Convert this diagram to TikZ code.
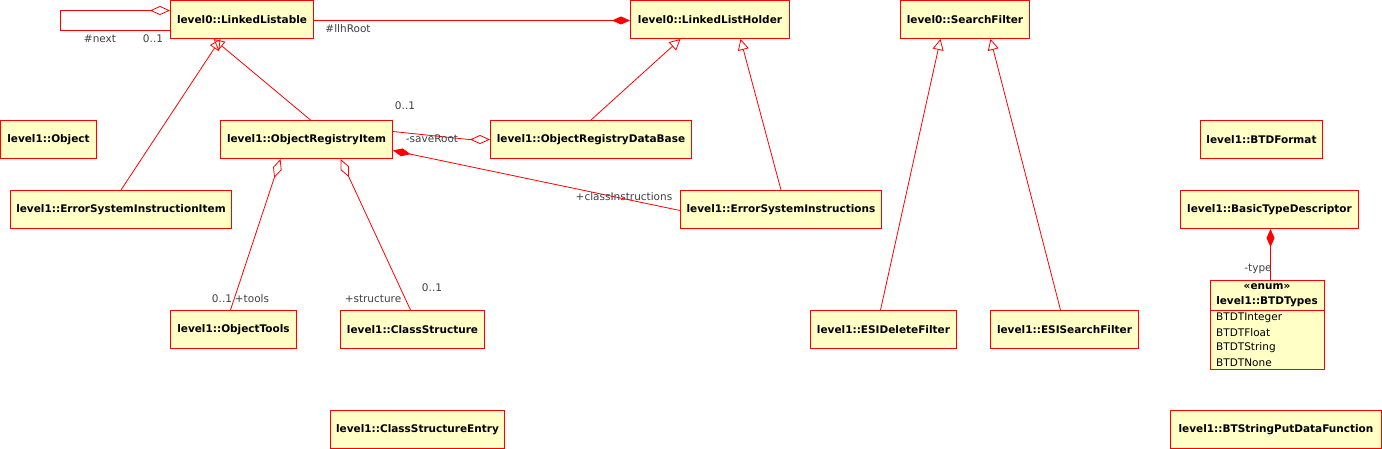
\documentclass[tikz,border=0pt]{standalone}
\usepackage{fontspec}
\setmainfont{DejaVu Sans}
\usetikzlibrary{arrows.meta,calc}
\definecolor{yel}{HTML}{FFFFC6}
\definecolor{lbl}{HTML}{404040}
\begin{document}
\begin{tikzpicture}[x=1pt,y=-1pt,
  every node/.style={inner sep=0pt},
  box/.style={draw=red, fill=yel, line width=1pt, minimum height=38pt, anchor=north west, font=\fontsize{10.5}{12}\selectfont\bfseries},
  lab/.style={font=\fontsize{10.5}{12}\selectfont, text=lbl},
  item/.style={font=\fontsize{10.5}{12}\selectfont, anchor=west},
  conn/.style={draw=red, line width=0.8pt},
  gen/.style={conn, -{Triangle[open, length=11pt, width=11pt]}},
  agg/.style={conn, -{Diamond[open, length=20pt, width=9pt]}},
  comp/.style={conn, -{Diamond[length=18pt, width=8pt, fill=red]}}]
\useasboundingbox (0,0) rectangle (1382,449);
% boxes
\node[box, minimum width=143pt] (ll) at (170,0) {level0::LinkedListable};
\node[box, minimum width=159pt] (llh) at (630,0) {level0::LinkedListHolder};
\node[box, minimum width=129pt] (sf) at (900,0) {level0::SearchFilter};
\node[box, minimum width=96pt] (obj) at (0,120) {level1::Object};
\node[box, minimum width=172pt] (ori) at (220,120) {level1::ObjectRegistryItem};
\node[box, minimum width=201pt] (ordb) at (490,120) {level1::ObjectRegistryDataBase};
\node[box, minimum width=122pt] (fmt) at (1200,120) {level1::BTDFormat};
\node[box, minimum width=221pt] (esii) at (10,190) {level1::ErrorSystemInstructionItem};
\node[box, minimum width=201pt] (esi) at (680,190) {level1::ErrorSystemInstructions};
\node[box, minimum width=178pt] (btd) at (1180,190) {level1::BasicTypeDescriptor};
\node[box, minimum width=126pt] (ot) at (170,310) {level1::ObjectTools};
\node[box, minimum width=144pt] (cs) at (340,310) {level1::ClassStructure};
\node[box, minimum width=146pt] (esid) at (810,310) {level1::ESIDeleteFilter};
\node[box, minimum width=148pt] (esis) at (990,310) {level1::ESISearchFilter};
\node[box, minimum width=174pt] (cse) at (330,410) {level1::ClassStructureEntry};
\node[box, minimum width=211pt] (bts) at (1170,410) {level1::BTStringPutDataFunction};
% enum box
\node[box, minimum width=114pt, minimum height=89pt] (btt) at (1210,280) {};
\node[font=\fontsize{10.5}{12}\selectfont\bfseries] (btth1) at (1267,287) {«enum»};
\node[font=\fontsize{10.5}{12}\selectfont\bfseries] (btth2) at (1267,302) {level1::BTDTypes};
\draw[red, line width=1pt] ($(btt.north west)+(0,30)$) -- ($(btt.north east)+(0,30)$);
\node[item] (i1) at (1216,318) {BTDTInteger};
\node[item] (i2) at (1216,333) {BTDTFloat};
\node[item] (i3) at (1216,348) {BTDTString};
\node[item] (i4) at (1216,363) {BTDTNone};
% generalizations
\draw[gen] (esii.north) -- ($(ll.south)+(-21.5,0)$);
\draw[gen] ($(ori.north)+(4,0)$) -- ($(ll.south)+(-28.5,0)$);
\draw[gen] (ordb.north) -- ($(llh.south)+(-29.5,0)$);
\draw[gen] (esi.north) -- ($(llh.south)+(30.5,0)$);
\draw[gen] ($(esid.north)+(-3,0)$) -- ($(sf.south)+(-24.5,0)$);
\draw[gen] ($(esis.north)+(-4,0)$) -- ($(sf.south)+(25.5,0)$);
% self loop
\draw[agg] ($(ll.west)+(0,11)$) -- ++(-110,0) -- ++(0,-20) -- ($(ll.west)+(0,-9)$);
\node[lab] (ln) at (100,39) {\#next};
\node[lab] (lnm) at (153,39) {0..1};
% llhRoot
\draw[comp] ($(ll.east)+(0,1)$) -- ($(llh.west)+(0,1)$);
\node[lab] (lr) at (348,29) {\#llhRoot};
% saveRoot
\draw[agg] ($(ori.east)+(0,-8)$) -- ($(ordb.west)+(-21,0)$) -- (ordb.west);
\node[lab] (sr) at (432,139) {-saveRoot};
\node[lab] (srm) at (405,106) {0..1};
% classInstructions
\draw[comp] ($(esi.west)+(0,1)$) -- ($(ori.east)+(0,11)$);
\node[lab] (ci) at (624,197) {+classInstructions};
% tools
\draw[agg] ($(ot.north)+(-3,0)$) -- ($(ori.south)+(-26,0)$);
\node[lab] (tm) at (222,299) {0..1};
\node[lab] (tl) at (252,299) {+tools};
% structure
\draw[agg] ($(cs.north)+(-2,0)$) -- ($(ori.south)+(34,0)$);
\node[lab] (st) at (373,299) {+structure};
\node[lab] (stm) at (432,288) {0..1};
% type
\draw[comp] ($(btt.north)+(3,0)$) -- ($(btd.south)+(1,0)$);
\node[lab] (ty) at (1258,269) {-type};
\end{tikzpicture}
\end{document}
